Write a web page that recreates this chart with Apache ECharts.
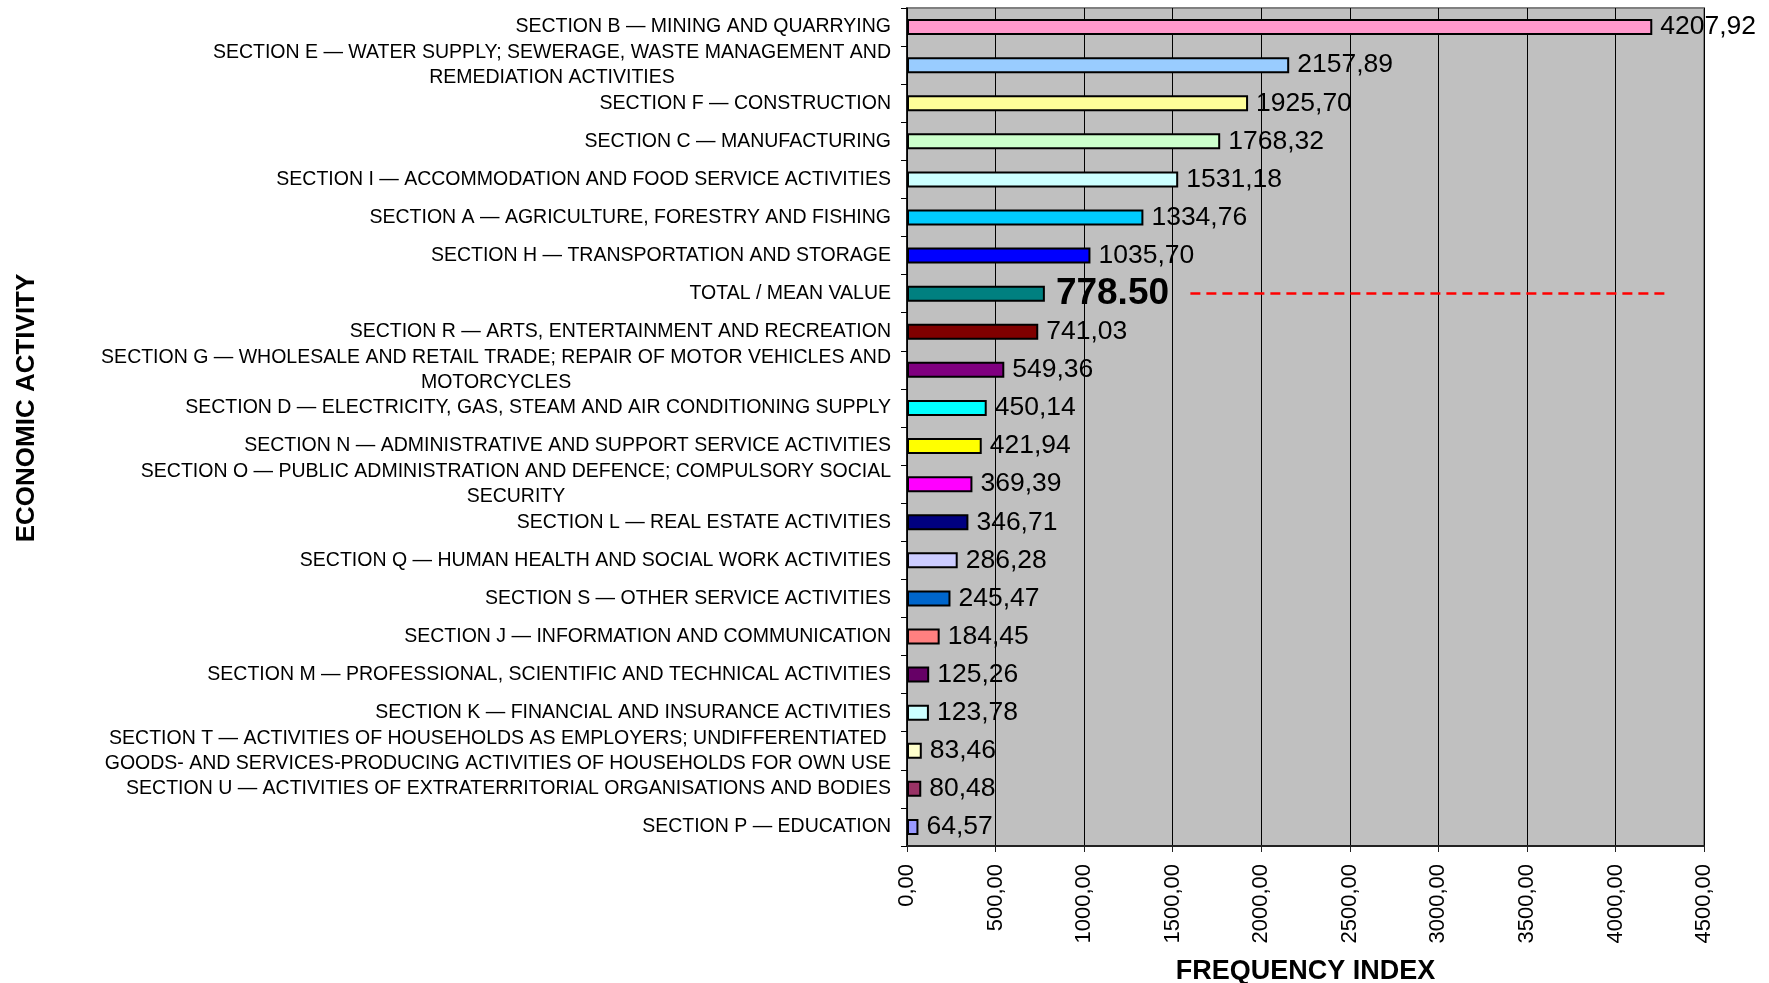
<!DOCTYPE html>
<html>
<head>
<meta charset="utf-8">
<title>Frequency index by economic activity</title>
<script src="https://cdn.jsdelivr.net/npm/echarts@6/dist/echarts.min.js"></script>
<style>
  html, body { margin: 0; padding: 0; background: #ffffff; }
  #chart { width: 1769px; height: 983px; }
</style>
</head>
<body>
<div id="chart"></div>
<script>
// Economic activities, top to bottom (line breaks follow the printed wrapping)
const categories = [
  'SECTION B — MINING AND QUARRYING',
  'SECTION E — WATER SUPPLY; SEWERAGE, WASTE MANAGEMENT AND\nREMEDIATION ACTIVITIES',
  'SECTION F — CONSTRUCTION',
  'SECTION C — MANUFACTURING',
  'SECTION I — ACCOMMODATION AND FOOD SERVICE ACTIVITIES',
  'SECTION A — AGRICULTURE, FORESTRY AND FISHING',
  'SECTION H — TRANSPORTATION AND STORAGE',
  'TOTAL / MEAN VALUE',
  'SECTION R — ARTS, ENTERTAINMENT AND RECREATION',
  'SECTION G — WHOLESALE AND RETAIL TRADE; REPAIR OF MOTOR VEHICLES AND\nMOTORCYCLES',
  'SECTION D — ELECTRICITY, GAS, STEAM AND AIR CONDITIONING SUPPLY',
  'SECTION N — ADMINISTRATIVE AND SUPPORT SERVICE ACTIVITIES',
  'SECTION O — PUBLIC ADMINISTRATION AND DEFENCE; COMPULSORY SOCIAL\nSECURITY',
  'SECTION L — REAL ESTATE ACTIVITIES',
  'SECTION Q — HUMAN HEALTH AND SOCIAL WORK ACTIVITIES',
  'SECTION S — OTHER SERVICE ACTIVITIES',
  'SECTION J — INFORMATION AND COMMUNICATION',
  'SECTION M — PROFESSIONAL, SCIENTIFIC AND TECHNICAL ACTIVITIES',
  'SECTION K — FINANCIAL AND INSURANCE ACTIVITIES',
  'SECTION T — ACTIVITIES OF HOUSEHOLDS AS EMPLOYERS; UNDIFFERENTIATED\nGOODS- AND SERVICES-PRODUCING ACTIVITIES OF HOUSEHOLDS FOR OWN USE',
  'SECTION U — ACTIVITIES OF EXTRATERRITORIAL ORGANISATIONS AND BODIES',
  'SECTION P — EDUCATION'
];

// Frequency index per activity
const frequencyIndex = [
  4207.92, 2157.89, 1925.70, 1768.32, 1531.18, 1334.76, 1035.70, 778.50,
  741.03, 549.36, 450.14, 421.94, 369.39, 346.71, 286.28, 245.47,
  184.45, 125.26, 123.78, 83.46, 80.48, 64.57
];

// Fill colour of each bar
const barColors = [
  '#FF99CC', '#99CCFF', '#FFFF99', '#CCFFCC', '#CCFFFF', '#00CCFF', '#0000FF', '#008080',
  '#800000', '#800080', '#00FFFF', '#FFFF00', '#FF00FF', '#000080', '#CCCCFF', '#0066CC',
  '#FF8080', '#660066', '#CCFFFF', '#FFFFCC', '#993366', '#9999FF'
];

const meanCategory = 'TOTAL / MEAN VALUE';
// Extent (in index units) of the dashed guide drawn on the mean row
const meanLineSpan = [1600, 4310];

const xAxisMin = 0;
const xAxisMax = 4500;
const xAxisStep = 500;

const FONT = '"Liberation Sans", Arial, Helvetica, sans-serif';

const seriesData = frequencyIndex.map(function (v, i) {
  const item = {
    value: v,
    itemStyle: { color: barColors[i] }
  };
  if (categories[i] === meanCategory) {
    item.label = {
      fontSize: 37,
      fontWeight: 'bold',
      distance: 11,
      formatter: function (p) { return p.value.toFixed(2); }
    };
  }
  return item;
});

const chart = echarts.init(document.getElementById('chart'), null, { renderer: 'canvas' });

chart.setOption({
  backgroundColor: '#ffffff',
  animation: false,
  textStyle: { fontFamily: FONT, color: '#000' },
  grid: {
    left: 907,
    right: 65,
    top: 8,
    bottom: 137,
    containLabel: false,
    outerBoundsMode: 'none',
    show: true,
    backgroundColor: '#C0C0C0',
    borderColor: '#808080',
    borderWidth: 2
  },
  xAxis: {
    type: 'value',
    min: xAxisMin,
    max: xAxisMax,
    interval: xAxisStep,
    name: 'FREQUENCY INDEX',
    nameLocation: 'middle',
    nameGap: 112,
    nameTextStyle: {
      fontFamily: FONT,
      fontSize: 27,
      fontWeight: 'bold',
      color: '#000',
      verticalAlign: 'top'
    },
    axisLine: { show: true, onZero: false, lineStyle: { color: '#222', width: 2 } },
    axisTick: { show: true, length: 6, lineStyle: { color: '#222', width: 1 } },
    axisLabel: {
      rotate: 90,
      margin: 18,
      fontFamily: FONT,
      fontSize: 22,
      color: '#000',
      formatter: function (v) { return v.toFixed(2).replace('.', ','); }
    },
    splitLine: { show: true, lineStyle: { color: '#000', width: 1 } }
  },
  yAxis: {
    type: 'category',
    data: categories,
    inverse: true,
    axisLine: { show: true, lineStyle: { color: '#000', width: 1.5 } },
    axisTick: { show: true, length: 6, inside: false, lineStyle: { color: '#000', width: 1 } },
    splitLine: { show: false },
    axisLabel: {
      interval: 0,
      margin: 16,
      fontFamily: FONT,
      fontSize: 19.5,
      color: '#000',
      formatter: function (v) {
        const lines = v.split('\n');
        if (lines.length === 1) return v;
        return lines.map(function (l) { return '{c|' + l + '}'; }).join('\n');
      },
      rich: {
        c: {
          align: 'center',
          fontFamily: FONT,
          fontSize: 19.5,
          lineHeight: 25,
          color: '#000'
        }
      }
    }
  },
  graphic: [
    {
      type: 'text',
      x: 27,
      y: 408,
      rotation: Math.PI / 2,
      style: {
        text: 'ECONOMIC ACTIVITY',
        fontFamily: FONT,
        fontSize: 26,
        fontWeight: 'bold',
        fill: '#000',
        align: 'center',
        verticalAlign: 'middle'
      }
    }
  ],
  series: [
    {
      type: 'bar',
      data: seriesData,
      barWidth: 16,
      itemStyle: { borderColor: '#000', borderWidth: 2 },
      label: {
        show: true,
        position: 'right',
        distance: 8,
        fontFamily: FONT,
        fontSize: 26.5,
        color: '#000',
        formatter: function (p) { return p.value.toFixed(2).replace('.', ','); }
      },
      markLine: {
        silent: true,
        symbol: ['none', 'none'],
        label: { show: false },
        lineStyle: { color: '#FF0000', width: 2.5, type: [10, 6] },
        data: [
          [
            { coord: [meanLineSpan[0], meanCategory] },
            { coord: [meanLineSpan[1], meanCategory] }
          ]
        ]
      }
    }
  ]
});
</script>
</body>
</html>
